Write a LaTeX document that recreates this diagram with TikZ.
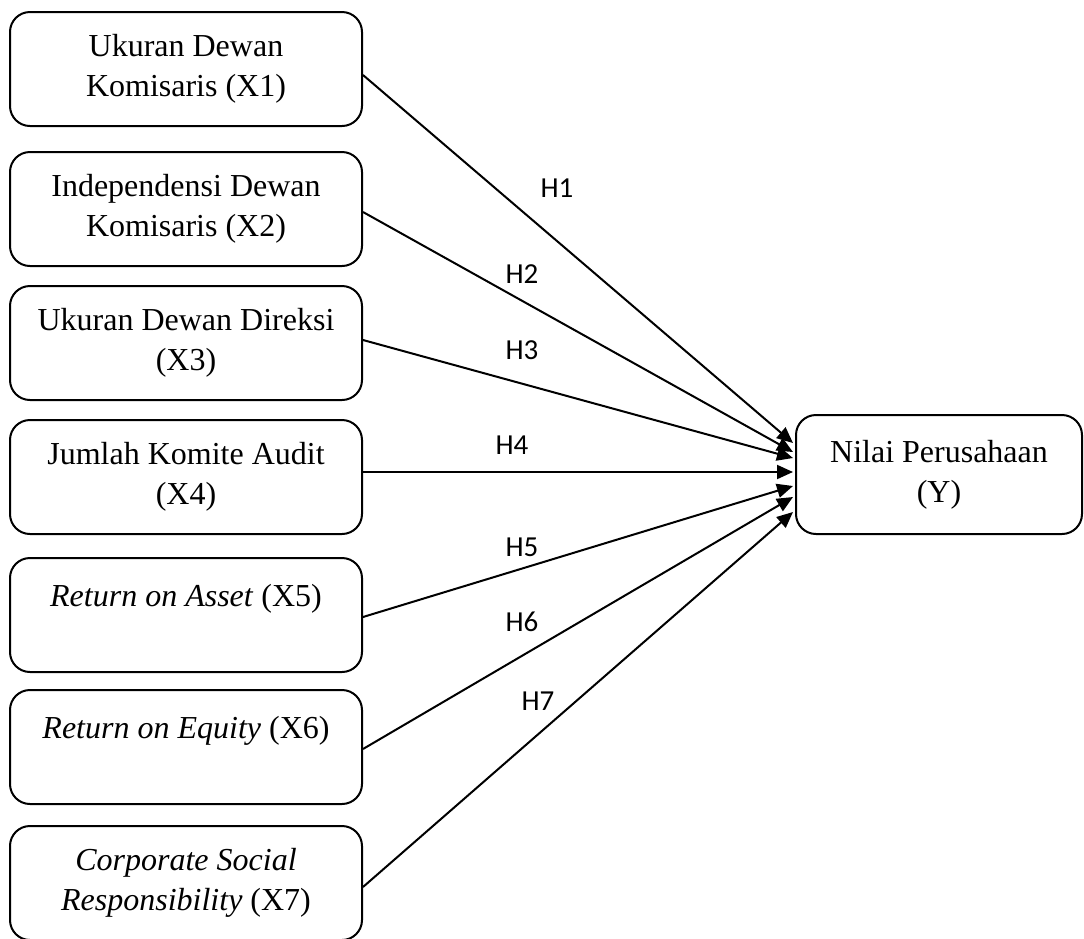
\documentclass[tikz,border=0pt]{standalone}
\usepackage{fontspec}
\setmainfont{Liberation Serif}
\newfontfamily\hfont{Carlito}
\usetikzlibrary{calc,arrows.meta}
\tikzset{
  varbox/.style={draw, line width=1pt, rounded corners=10pt, align=center,
    minimum width=176pt, minimum height=57pt, inner sep=2pt,
    font=\fontsize{16}{20}\selectfont},
  ybox/.style={varbox, minimum width=143pt, minimum height=59.5pt},
  hyp/.style={-{Triangle[length=8pt,width=7pt]}, line width=1pt},
  hlab/.style={inner sep=0pt, font=\hfont\fontsize{14.5}{17}\selectfont}
}
\begin{document}
\begin{tikzpicture}[x=0.5pt,y=-0.5pt]
\useasboundingbox (0,0) rectangle (1084,939);
\node[varbox] (b1) at (186,69) {Ukuran Dewan\\Komisaris (X1)};
\node[varbox] (b2) at (186,209) {Independensi Dewan\\Komisaris (X2)};
\node[varbox] (b3) at (186,343) {Ukuran Dewan Direksi\\(X3)};
\node[varbox] (b4) at (186,477) {Jumlah Komite Audit\\(X4)};
\node[varbox] (b5) at (186,615) {\textit{Return on Asset} (X5)\\ \mbox{}};
\node[varbox] (b6) at (186,747) {\textit{Return on Equity} (X6)\\ \mbox{}};
\node[varbox] (b7) at (186,883) {\textit{Corporate Social}\\\textit{Responsibility} (X7)};
\node[ybox] (y) at (939,474.5) {Nilai Perusahaan\\(Y)};

\draw[hyp] ($(b1.east)+(0,6)$) -- ($(y.west)+(-2,-31.5)$);
\draw[hyp] ($(b2.east)+(0,3)$) -- ($(y.west)+(-2,-22.5)$);
\draw[hyp] ($(b3.east)+(0,-3)$) -- ($(y.west)+(-2,-16.5)$);
\draw[hyp] ($(b4.east)+(0,-5)$) -- ($(y.west)+(-2,-2.5)$);
\draw[hyp] ($(b5.east)+(0,2)$) -- ($(y.west)+(-2,11.5)$);
\draw[hyp] ($(b6.east)+(0,2)$) -- ($(y.west)+(-2,22.5)$);
\draw[hyp] ($(b7.east)+(0,4)$) -- ($(y.west)+(-2,37.5)$);

\node[hlab] (h1) at (557,188) {H1};
\node[hlab] (h2) at (522,274) {H2};
\node[hlab] (h3) at (522,350) {H3};
\node[hlab] (h4) at (512,445) {H4};
\node[hlab] (h5) at (522,547) {H5};
\node[hlab] (h6) at (522,622) {H6};
\node[hlab] (h7) at (538,701) {H7};
\end{tikzpicture}
\end{document}
